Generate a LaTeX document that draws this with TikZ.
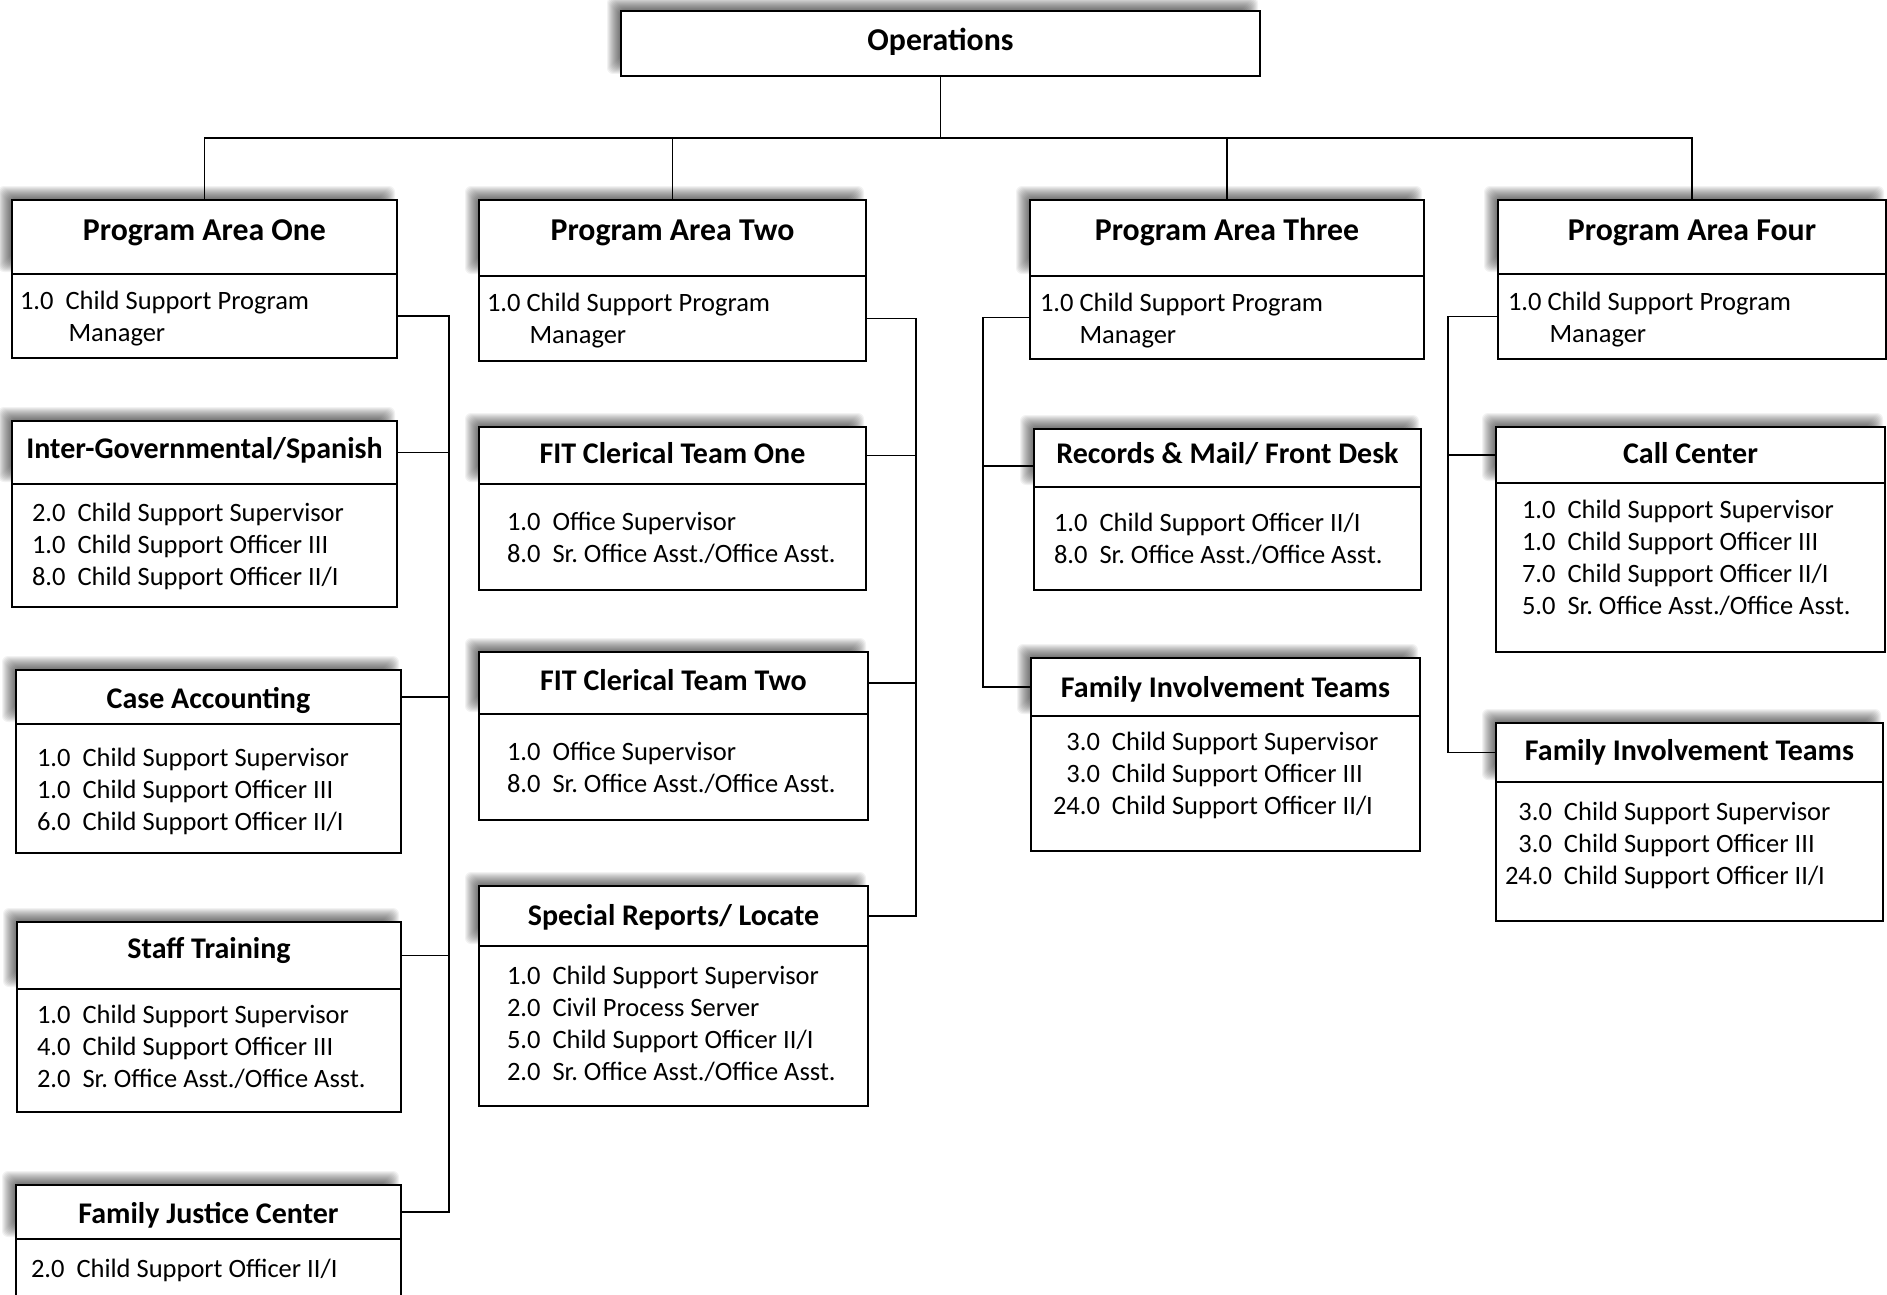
\documentclass[tikz,border=0pt]{standalone}
\usepackage{fontspec}
\setmainfont{Carlito}
\usetikzlibrary{calc}

\tikzset{
  wire/.style={line width=1.5pt, black},
  titlebox/.style={draw, line width=1.6pt, fill=white, inner sep=0pt, outer sep=0pt},
  bodybox/.style={draw, line width=1.6pt, fill=white, inner sep=0pt, outer sep=0pt},
  listtext/.style={inner sep=0pt, outer sep=0pt, font=\fontsize{26.5}{32.2}\selectfont},
  bigtitle/.style={font=\bfseries\fontsize{31.8}{38}\selectfont},
  subtitle/.style={font=\bfseries\fontsize{30}{36}\selectfont},
}

% soft blurred shadow up and to the left of a heading box: x1 x2 ytop ybottom
\newcommand\titleshadow[4]{%
  \foreach \k in {0,...,12}{%
    \pgfmathsetmacro\m{-6+\k}%
    \fill[black, opacity=0.052, rounded corners=6pt]
      ({#1-8-\m},{#3-8-\m}) rectangle ({#2-8+\m},{#4-8+\m});
  }%
}

% heading box with a staff box below it
% name, x1, x2, ytop, ybaseline, ydivider, ybottom, font style, heading
\newcommand\orgunit[9]{%
  \titleshadow{#2}{#3}{#4}{#6}%
  \pgfmathsetmacro\uw{#3-#2}%
  \pgfmathsetmacro\uth{#5-#4}%
  \pgfmathsetmacro\utd{#6-#5}%
  \pgfmathsetmacro\ubh{#7-#6}%
  \node[bodybox, minimum width=\uw pt, minimum height=\ubh pt, anchor=north west] (#1-b) at (#2,#6) {};
  \node[titlebox, #8, minimum width=\uw pt, text height=\uth pt, text depth=\utd pt, anchor=north west] (#1) at (#2,#4) {#9};
}

% staff list: [gap], name, x, first baseline, rows
\newcommand\stafflist[5][12pt]{%
  \node[listtext, anchor=base west] (#2) at (#3,#4)
    {\begin{tabular}[t]{@{}r@{\hspace{#1}}l@{}}#5\end{tabular}};
}

\begin{document}
\begin{tikzpicture}[x=1pt, y=-1pt]
\useasboundingbox (0,0) rectangle (1887,1295);
\clip (0,0) rectangle (1887,1295);
\fill[white] (0,0) rectangle (1887,1295);

% top box
\titleshadow{621}{1260}{11}{76}
\node[titlebox, bigtitle, minimum width=639pt, text height=40pt, text depth=25pt, anchor=north west] (ops) at (621,11) {Operations};

% program areas
\orgunit{pa1}{12}{397}{200}{240}{274}{358}{bigtitle}{Program Area One}
\orgunit{pa2}{479}{866}{200}{240}{276}{361}{bigtitle}{Program Area Two}
\orgunit{pa3}{1030}{1424}{200}{240}{276}{359}{bigtitle}{Program Area Three}
\orgunit{pa4}{1498}{1886}{200}{240}{274}{359}{bigtitle}{Program Area Four}
\stafflist[12pt]{pa1-l}{20}{309}{1.0 & Child Support Program\\ & \hspace{3pt}Manager}
\stafflist[6pt]{pa2-l}{487}{311}{1.0 & Child Support Program\\ & \hspace{3pt}Manager}
\stafflist[6pt]{pa3-l}{1040}{311}{1.0 & Child Support Program\\ & Manager}
\stafflist[6pt]{pa4-l}{1508}{310}{1.0 & Child Support Program\\ & \hspace{2pt}Manager}

% units under Program Area One
\orgunit{ig}{12}{397}{421}{458}{484}{607}{subtitle}{Inter-Governmental/Spanish}
\stafflist{ig-l}{32}{521}{2.0 & Child Support Supervisor\\ 1.0 & Child Support Officer III\\ 8.0 & Child Support Officer II/I}
\orgunit{ca}{16}{401}{670}{708}{724}{853}{subtitle}{Case Accounting}
\stafflist{ca-l}{37}{766}{1.0 & Child Support Supervisor\\ 1.0 & Child Support Officer III\\ 6.0 & Child Support Officer II/I}
\orgunit{st}{17}{401}{922}{958}{989}{1112}{subtitle}{Staff Training}
\stafflist{st-l}{37}{1023}{1.0 & Child Support Supervisor\\ 4.0 & Child Support Officer III\\ 2.0 & Sr.\ Office Asst./Office Asst.}
\orgunit{fjc}{16}{401}{1185}{1223}{1239}{1330}{subtitle}{Family Justice Center}
\stafflist{fjc-l}{31}{1277}{2.0 & Child Support Officer II/I}

% units under Program Area Two
\orgunit{fit1}{479}{866}{427}{463}{484}{590}{subtitle}{FIT Clerical Team One}
\stafflist{fit1-l}{507}{530}{1.0 & Office Supervisor\\ 8.0 & Sr.\ Office Asst./Office Asst.}
\orgunit{fit2}{479}{868}{652}{690}{714}{820}{subtitle}{FIT Clerical Team Two}
\stafflist{fit2-l}{507}{760}{1.0 & Office Supervisor\\ 8.0 & Sr.\ Office Asst./Office Asst.}
\orgunit{sr}{479}{868}{886}{925}{946}{1106}{subtitle}{Special Reports/ Locate}
\stafflist{sr-l}{507}{984}{1.0 & Child Support Supervisor\\ 2.0 & Civil Process Server\\ 5.0 & Child Support Officer II/I\\ 2.0 & Sr.\ Office Asst./Office Asst.}

% units under Program Area Three
\orgunit{rec}{1034}{1421}{429}{463}{487}{590}{subtitle}{Records \& Mail/ Front Desk}
\stafflist{rec-l}{1054}{531}{1.0 & Child Support Officer II/I\\ 8.0 & Sr.\ Office Asst./Office Asst.}
\orgunit{fit3}{1031}{1420}{658}{697}{716}{851}{subtitle}{Family Involvement Teams}
\stafflist{fit3-l}{1053}{750}{3.0 & Child Support Supervisor\\ 3.0 & Child Support Officer III\\ 24.0 & Child Support Officer II/I}

% units under Program Area Four
\orgunit{cc}{1496}{1885}{427}{463}{483}{652}{subtitle}{Call Center}
\stafflist{cc-l}{1522}{518}{1.0 & Child Support Supervisor\\ 1.0 & Child Support Officer III\\ 7.0 & Child Support Officer II/I\\ 5.0 & Sr.\ Office Asst./Office Asst.}
\orgunit{fit4}{1496}{1883}{723}{760}{782}{921}{subtitle}{Family Involvement Teams}
\stafflist{fit4-l}{1505}{820}{3.0 & Child Support Supervisor\\ 3.0 & Child Support Officer III\\ 24.0 & Child Support Officer II/I}

% connector rails
\coordinate (topbus) at (0,138);
\coordinate (railA) at (449,0);
\coordinate (railB) at (916,0);
\coordinate (railC) at (983,0);
\coordinate (railD) at (1448,0);

\draw[wire] (ops.south) -- (ops.south |- topbus);
\draw[wire] (pa1.north) -- (pa1.north |- topbus) -- (pa4.north |- topbus) -- (pa4.north);
\draw[wire] (pa2.north) -- (pa2.north |- topbus);
\draw[wire] (pa3.north) -- (pa3.north |- topbus);

\draw[wire] (pa1-b.east) -- (pa1-b.east -| railA) -- (fjc.east -| railA) -- (fjc.east);
\foreach \n in {ig,ca,st} \draw[wire] (\n.east) -- (\n.east -| railA);

\draw[wire] (pa2-b.east) -- (pa2-b.east -| railB) -- (sr.east -| railB) -- (sr.east);
\foreach \n in {fit1,fit2} \draw[wire] (\n.east) -- (\n.east -| railB);

\draw[wire] (pa3-b.west) -- (pa3-b.west -| railC) -- (fit3.west -| railC) -- (fit3.west);
\draw[wire] ([yshift=-8pt]rec.west) -- ([yshift=-8pt]rec.west -| railC);

\draw[wire] (pa4-b.west) -- (pa4-b.west -| railD) -- (fit4.west -| railD) -- (fit4.west);
\draw[wire] (cc.west) -- (cc.west -| railD);
\end{tikzpicture}
\end{document}
